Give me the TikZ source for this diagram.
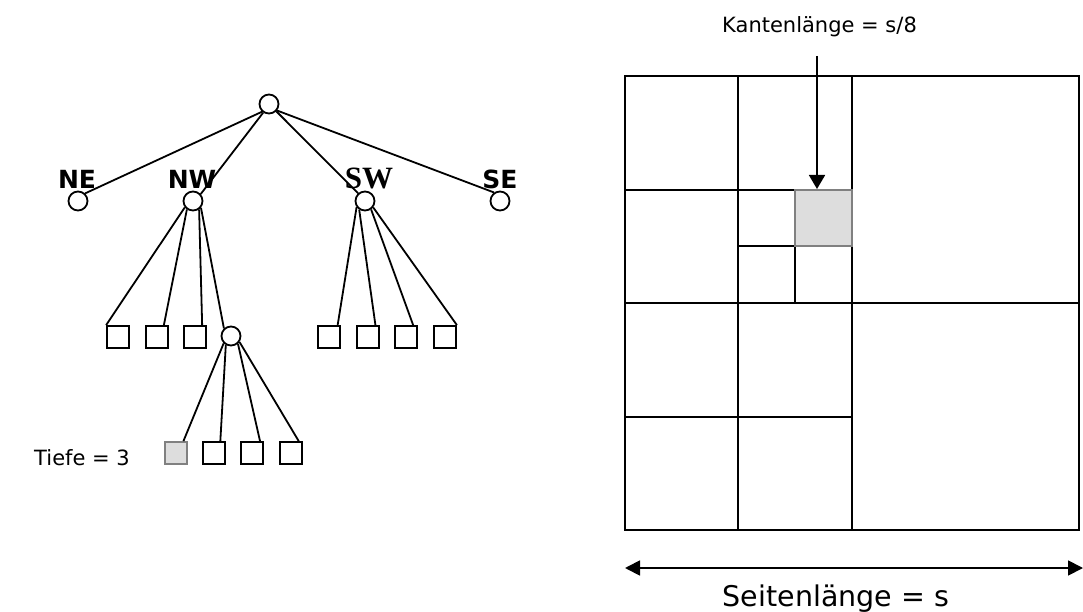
\documentclass[tikz,border=0pt]{standalone}
\usepackage{fontspec}
\setmainfont{DejaVu Sans}
\newfontfamily\labelsans{DejaVu Sans}
\newfontfamily\labelserif{Liberation Serif}
\usetikzlibrary{arrows.meta}
\definecolor{cellgrey}{HTML}{DDDDDD}
\definecolor{cellline}{HTML}{808080}
\begin{document}
\begin{tikzpicture}[x=1pt,y=-1pt,
  inner/.style={circle,draw,line width=1.8pt,minimum size=19pt,inner sep=0pt},
  leaf/.style={rectangle,draw,line width=1.8pt,minimum size=22pt,inner sep=0pt},
  greyleaf/.style={leaf,fill=cellgrey,draw=cellline},
  edge/.style={line width=1.8pt},
  quad/.style={line width=2pt},
  dirlabel/.style={anchor=base,inner sep=0pt,font=\labelsans\bfseries\fontsize{25}{29}\selectfont},
  plain/.style={inner sep=0pt,font=\fontsize{21}{25}\selectfont}
]
\useasboundingbox (0,0) rectangle (1083,612);

% ---------- tree ----------
\node[inner] (root) at (269,104) {};
\node[inner] (ne) at (78,201) {};
\node[inner] (nw) at (193,201) {};
\node[inner] (sw) at (365,201) {};
\node[inner] (se) at (500,201) {};

\node[dirlabel] (lne) at (77,189) {NE};
\node[dirlabel] (lnw) at (192,189) {NW};
\node[anchor=base,inner sep=0pt,font=\labelserif\bfseries\fontsize{31}{34}\selectfont] (lsw) at (369,189) {SW};
\node[dirlabel] (lse) at (500,189) {SE};

\draw[edge] (root.228) -- (ne.47);
\draw[edge] (root.236) -- (nw.42);
\draw[edge] (root.315) -- (sw.132);
\draw[edge] (root.321) -- (se.125);

% NW children
\node[leaf] (a1) at (118,337) {};
\node[leaf] (a2) at (157,337) {};
\node[leaf] (a3) at (195,337) {};
\node[inner] (a4) at (231,336) {};
\draw[edge] (nw.218) -- (a1.north west);
\draw[edge] (nw.234) -- (a2.60);
\draw[edge] (nw.306) -- (a3.59);
\draw[edge] (nw.320) -- (a4.133);

% SW children
\node[leaf] (b1) at (329,337) {};
\node[leaf] (b2) at (368,337) {};
\node[leaf] (b3) at (406,337) {};
\node[leaf] (b4) at (445,337) {};
\draw[edge] (sw.216) -- (b1.54);
\draw[edge] (sw.236) -- (b2.58);
\draw[edge] (sw.306) -- (b3.59);
\draw[edge] (sw.322) -- (b4.north east);

% depth-3 children
\node[greyleaf] (c1) at (176,453) {};
\node[leaf] (c2) at (214,453) {};
\node[leaf] (c3) at (252,453) {};
\node[leaf] (c4) at (291,453) {};
\draw[edge] (a4.225) -- (c1.58);
\draw[edge] (a4.240) -- (c2.62);
\draw[edge] (a4.312) -- (c3.56);
\draw[edge] (a4.325) -- (c4.57);

\node[plain,anchor=base east] (tiefe) at (130,465) {Tiefe = 3};

% ---------- quadtree ----------
\draw[quad] (625,76) rectangle (1079,530);
\draw[quad] (738,76) -- (738,530);
\draw[quad] (852,76) -- (852,530);
\draw[quad] (625,303) -- (1079,303);
\draw[quad] (625,190) -- (852,190);
\draw[quad] (625,417) -- (852,417);
\draw[quad] (795,190) -- (795,303);
\draw[quad] (738,246) -- (852,246);
\node[rectangle,fill=cellgrey,draw=cellline,line width=2pt,minimum width=57pt,minimum height=56pt,inner sep=0pt] (cell) at (823.5,218) {};

\node[plain,anchor=base west] (kante) at (722,33) {Kantenlänge = s/8};
\coordinate (atop) at (817,56);
\draw[line width=1.8pt,-{Triangle[length=14pt,width=16pt]}] (atop) -- (cell.north -| atop);

\coordinate (dl) at (625,568);
\coordinate (dr) at (1083,568);
\draw[line width=1.8pt,{Triangle[length=15pt,width=15pt]}-{Triangle[length=15pt,width=15pt]}] (dl) -- (dr);
\node[inner sep=0pt,anchor=base,font=\fontsize{28.5}{32}\selectfont] (seite) at (836,606) {Seitenlänge = s};
\end{tikzpicture}
\end{document}
